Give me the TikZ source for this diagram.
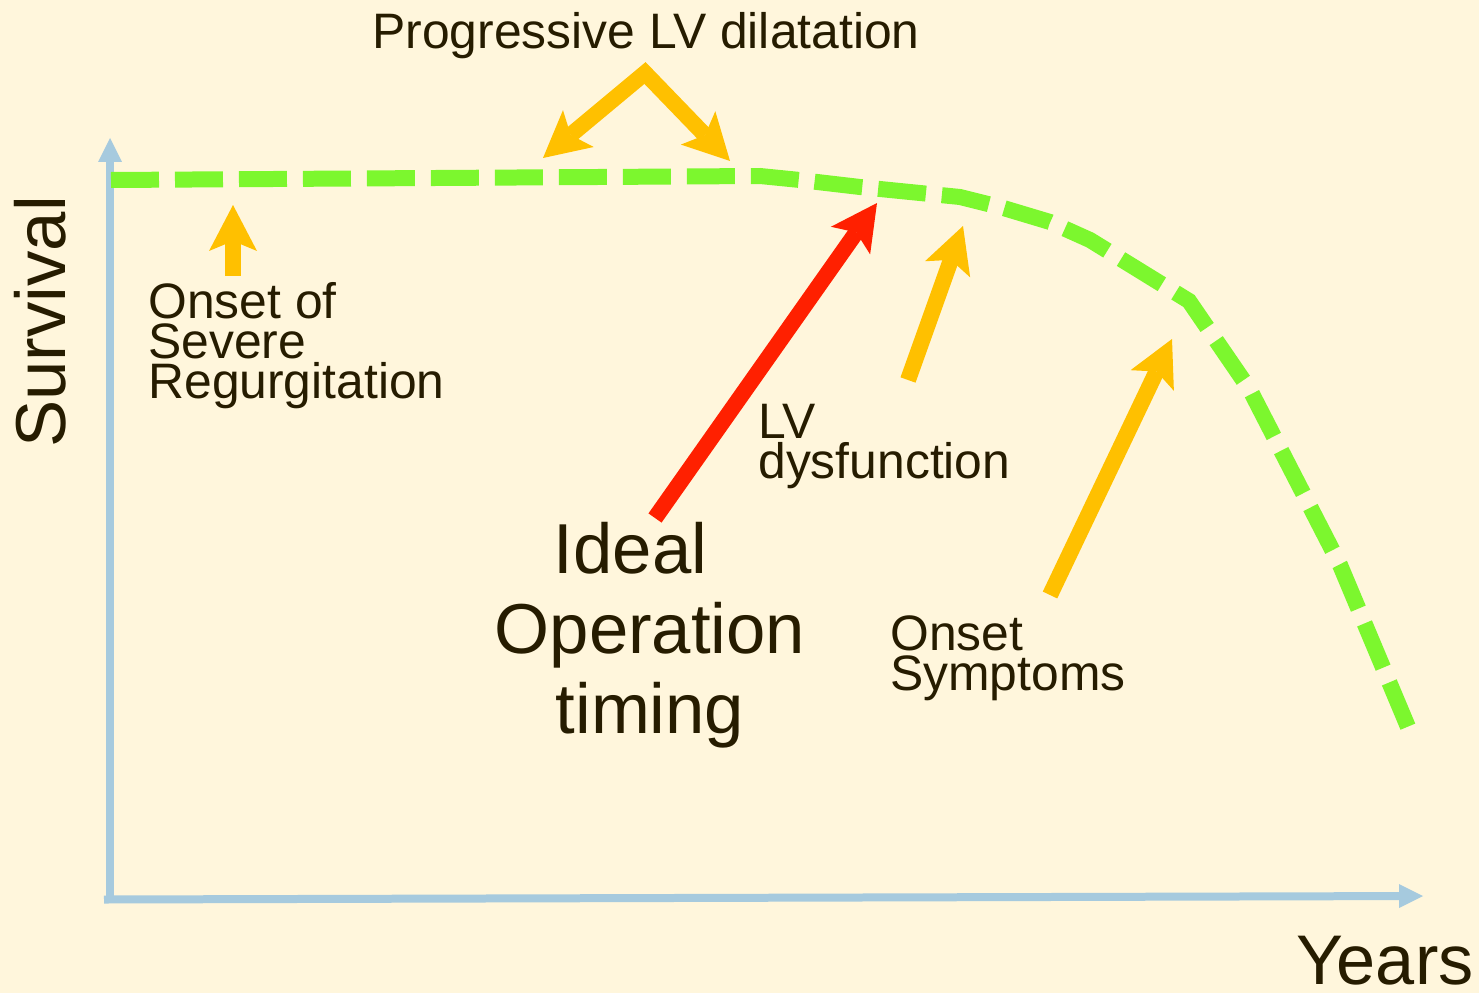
\documentclass[tikz,border=0pt]{standalone}
\usepackage{fontspec}
\setmainfont{Liberation Sans}
\usetikzlibrary{arrows.meta}
\usetikzlibrary{positioning}
\definecolor{bgcream}{RGB}{255,246,220}
\definecolor{axisblue}{RGB}{166,202,222}
\definecolor{curvegreen}{RGB}{124,247,46}
\definecolor{markorange}{RGB}{255,192,0}
\definecolor{markred}{RGB}{255,32,0}
\definecolor{inkbrown}{RGB}{38,28,0}
\tikzset{
	pointtip/.tip = {Stealth[length=0.92cm, width=0.96cm, inset=0.2cm, line width=0pt]},
	axisline/.style = {draw = axisblue, line width = 0.16cm, -{Triangle[length=0.48cm, width=0.48cm, line width=0pt]}},
	survcurve/.style = {draw = curvegreen, line width = 0.32cm, dash pattern = on 0.96cm off 0.32cm},
	pointer/.style = {line width = 0.32cm, -pointtip},
	notetext/.style = {text = inkbrown, inner sep = 0pt, align = left, font = \fontsize{28.35pt}{22.7pt}\selectfont},
	bigtext/.style = {text = inkbrown, inner sep = 0pt, font = \fontsize{40.25pt}{45.35pt}\selectfont}
}
\newcommand{\pointto}[3]{\draw[pointer, draw = #1] (#2) -- (#3);}

\begin{document}
\begin{tikzpicture}[x = 0.02cm, y = -0.02cm]

					\fill[bgcream] (0,0) rectangle (1479,993);
					\useasboundingbox (0,0) rectangle (1479,993);

					% axes
					\coordinate (origin) at (110,899);
					\coordinate (xstart) at (104,899.5);
					\coordinate (ytip) at (110,138);
					\coordinate (xtip) at (1423,896);
					\draw[axisline] (origin) -- (ytip);
					\draw[axisline] (xstart) -- (xtip);

					% survival curve
					\draw[survcurve] (111,180) -- (760,176) -- (800,180) -- (860,187) -- (960,197)
						-- (1000,207) -- (1050,222) -- (1090,240) -- (1189,301) -- (1250,390)
						-- (1340,565) -- (1408,727);

					% texts (base = last line)
					\node[notetext, anchor = base west] (onsetreg) at (148,398) {Onset of\\Severe\\Regurgitation};
					\node[notetext, anchor = base] (dilat) at (646,49) {Progressive LV dilatation};
					\node[notetext, anchor = base west] (lvdys) at (758,478) {LV\\dysfunction};
					\node[notetext, anchor = base west] (symptoms) at (890,690) {Onset\\Symptoms};
					\node[bigtext, align = center, anchor = base] (ideal) at (650,733) {Ideal\hspace*{0.55em}\\Operation\\timing};
					\node[bigtext, rotate = 90, anchor = base] (survival) at (65,322) {Survival};
					\node[bigtext, anchor = base west, font = \fontsize{40pt}{40pt}\selectfont] (years) at (1296,984) {Years};

					% pointers
					\coordinate (regtail) at (233,276);
					\coordinate (regtip) at (233,205);
					\coordinate (dilleft) at (543,158);
					\coordinate (dilapex) at (645,73);
					\coordinate (dilright) at (730,161);
					\coordinate (idealtail) at (655,518);
					\coordinate (idealtip) at (877,203);
					\coordinate (lvtail) at (908,380);
					\coordinate (lvtip) at (963,226);
					\coordinate (symtail) at (1050,595);
					\coordinate (symtip) at (1172,339);

					\pointto{markorange}{regtail}{regtip}
					\draw[pointer, draw = markorange, pointtip-pointtip, miter limit = 10] (dilleft) -- (dilapex) -- (dilright);
					\pointto{markred}{idealtail}{idealtip}
					\pointto{markorange}{lvtail}{lvtip}
					\pointto{markorange}{symtail}{symtip}

\end{tikzpicture}
\end{document}
